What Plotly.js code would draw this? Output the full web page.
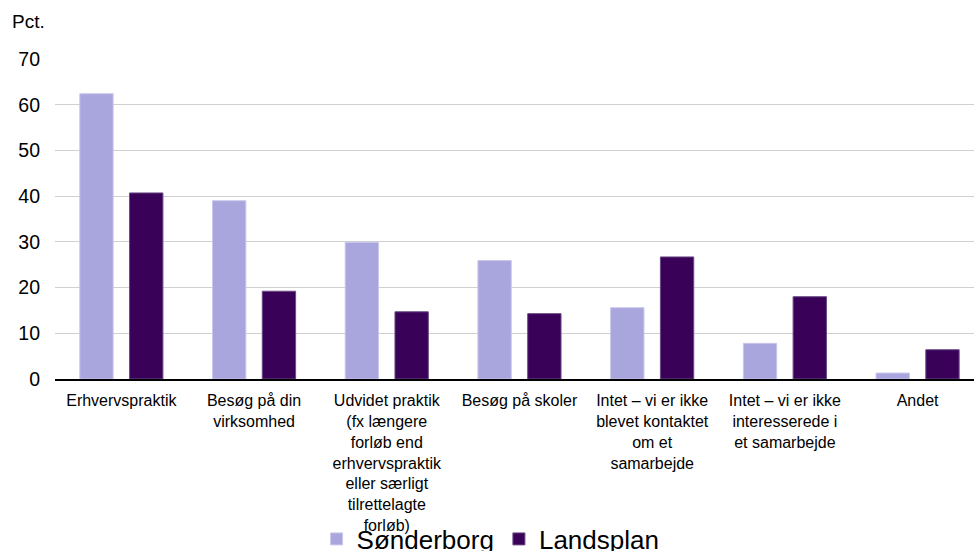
<!DOCTYPE html>
<html>
<head>
<meta charset="utf-8">
<script src="https://cdn.plot.ly/plotly-3.0.1.min.js"></script>
<style>html,body{margin:0;padding:0;background:#fff;}#chart{width:974px;height:551px;}</style>
</head>
<body>
<div id="chart"></div>
<script>
const categories = [
  "Erhvervspraktik",
  "Besøg på din<br>virksomhed",
  "Udvidet praktik<br>(fx længere<br>forløb end<br>erhvervspraktik<br>eller særligt<br>tilrettelagte<br>forløb)",
  "Besøg på skoler",
  "Intet – vi er ikke<br>blevet kontaktet<br>om et<br>samarbejde",
  "Intet – vi er ikke<br>interesserede i<br>et samarbejde",
  "Andet"
];
const sonderborg = [62.4, 39.0, 29.9, 25.9, 15.6, 7.8, 1.3];
const landsplan = [40.7, 19.2, 14.7, 14.3, 26.7, 18.0, 6.4];
const yTicks = [0, 10, 20, 30, 40, 50, 60, 70];

const font = "Liberation Sans, Arial, sans-serif";

const data = [
  {type: "bar", name: "Sønderborg", x: categories, y: sonderborg,
   marker: {color: "#A9A6DE", line: {color: "#C9C7EC", width: 1}}, hoverinfo: "skip"},
  {type: "bar", name: "Landsplan", x: categories, y: landsplan,
   marker: {color: "#3A0158", line: {color: "#6A4A86", width: 1}}, hoverinfo: "skip"}
];

const layout = {
  width: 974, height: 551,
  margin: {l: 55, r: 0, t: 59, b: 172, autoexpand: false},
  paper_bgcolor: "#fff", plot_bgcolor: "#fff",
  barmode: "group", bargap: 0.25, bargroupgap: 0.33,
  font: {family: font, color: "#000"},
  showlegend: true,
  legend: {orientation: "h", x: 0.474, xanchor: "center", y: -0.5, yanchor: "middle",
           bgcolor: "rgba(0,0,0,0)",
           font: {size: 26, family: font, color: "#000"}, itemwidth: 30, tracegroupgap: 0},
  xaxis: {type: "category", range: [-0.5, 6.425], showline: true, linecolor: "#000", linewidth: 2,
          automargin: false, ticks: "", ticklabelstandoff: 6,
          tickfont: {size: 16, family: font, color: "#000"},
          showgrid: false, fixedrange: true},
  yaxis: {range: [0, 70], tickvals: yTicks, ticktext: yTicks.map(String), showgrid: true,
          gridcolor: "#D0D0D0", gridwidth: 1, zeroline: false, showline: false, ticks: "",
          automargin: false, ticklabelstandoff: 14, tickfont: {size: 19.5, family: font, color: "#000"},
          fixedrange: true},
  annotations: [
    {text: "Pct.", xref: "paper", yref: "paper", x: -0.049, y: 1.116, xanchor: "left", yanchor: "middle",
     showarrow: false, font: {size: 19, family: font, color: "#000"}}
  ]
};

Plotly.newPlot("chart", data, layout, {displayModeBar: false, staticPlot: true});
</script>
</body>
</html>
